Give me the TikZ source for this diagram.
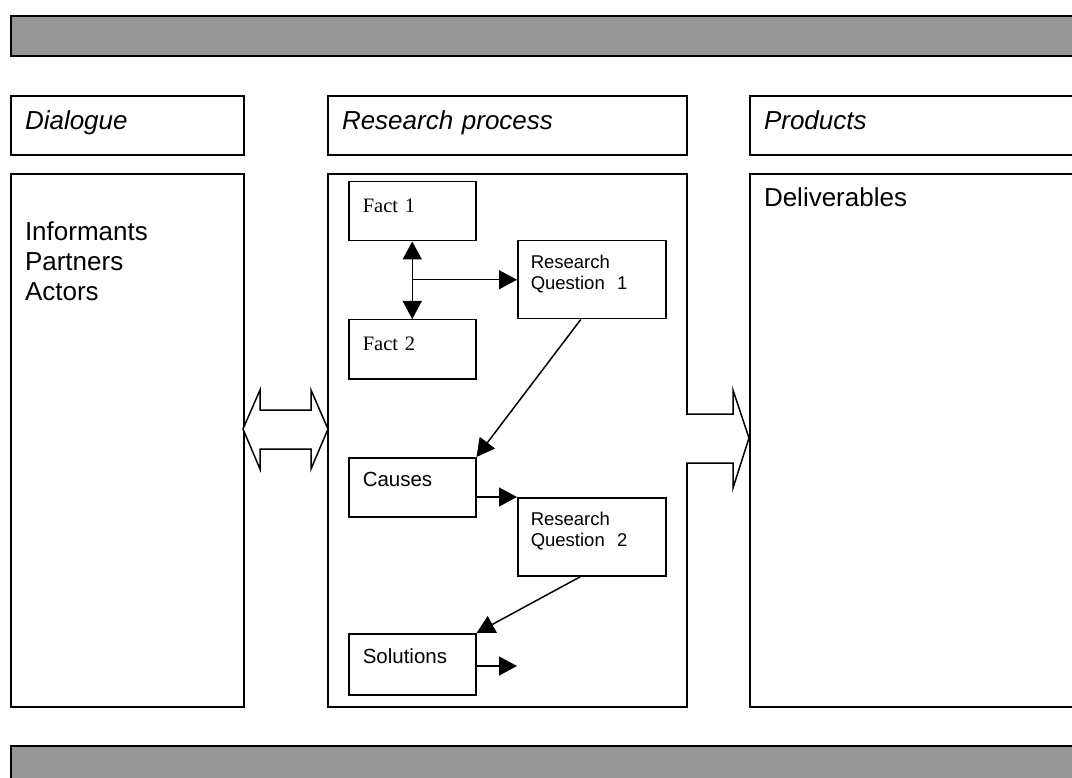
\documentclass[tikz,border=0pt]{standalone}
\usepackage{fontspec}
\setmainfont{Liberation Serif}
\setsansfont{Liberation Sans}
\usetikzlibrary{arrows.meta}
\definecolor{bargray}{RGB}{150,150,150}
\tikzstyle{bar} = [rectangle, draw=black, line width=2pt, fill=bargray, anchor=north west, inner sep=0pt]
\tikzstyle{panel} = [rectangle, draw=black, line width=2pt, anchor=north west, align=left, inner xsep=14pt, inner ysep=0pt, font=\sffamily\fontsize{26}{30}\selectfont]
\tikzstyle{heading} = [panel, font=\sffamily\itshape\fontsize{26}{30}\selectfont]
\tikzstyle{item} = [rectangle, draw=black, line width=1.5pt, anchor=north west, align=left, inner xsep=14pt, inner ysep=0pt, text width=99pt, font=\sffamily\fontsize{20.5}{24}\selectfont]
\tikzstyle{fact} = [item, font=\rmfamily\fontsize{20.5}{24}\selectfont]
\tikzstyle{question} = [item, inner xsep=13pt, text width=122pt, font=\sffamily\fontsize{18.5}{21}\selectfont]
\tikzstyle{arrow} = [line width=1.5pt, -{Triangle[length=18pt,width=19pt]}]
\tikzstyle{dblarrow} = [line width=1.5pt, {Triangle[length=18pt,width=19pt]}-{Triangle[length=18pt,width=19pt]}]
\tikzstyle{bigarrow} = [draw=black, line width=1.5pt, fill=white, line join=miter]

\begin{document}
\begin{tikzpicture}[x=1pt, y=-1pt]
\useasboundingbox (0,0) rectangle (1072,778);

% Bars
\node (topbar) [bar, minimum width=1080pt, minimum height=40pt] at (10,15) {};
\node (bottombar) [bar, minimum width=1080pt, minimum height=60pt] at (10,745) {};

% Headings
\node (dialogue) [heading, text width=205pt, text height=34pt, text depth=25pt] at (10,95) {Dialogue};
\node (process) [heading, text width=331pt, text height=34pt, text depth=25pt] at (327,95) {Research process};
\node (products) [heading, text width=313pt, text height=34pt, text depth=25pt] at (749,95) {Products};

% Panels
\node (people) [panel, text width=205pt, text height=67pt, text depth=466pt] at (10,173) {Informants\\Partners\\Actors};
\node (research) [panel, text width=331pt, text height=34pt, text depth=499pt] at (327,173) {};
\node (deliverables) [panel, text width=313pt, text height=33pt, text depth=500pt] at (749,173) {Deliverables};

% Research steps
\node (fact1) [fact, text height=31pt, text depth=28pt] at (348,181) {Fact 1};
\node (fact2) [fact, text height=31pt, text depth=28pt] at (348,319) {Fact 2};
\node (rq1) [question, text height=28pt, text depth=50pt] at (517,240) {Research\\Question\ \ 1};
\node (causes) [item, text height=29pt, text depth=30pt] at (348,457) {Causes};
\node (rq2) [question, text height=28pt, text depth=50pt] at (517,497) {Research\\Question\ \ 2};
\node (solutions) [item, text height=30pt, text depth=31pt] at (348,633) {Solutions};
\coordinate (solout) at (517,666);

% Arrows
\draw [dblarrow] (fact1) -- (fact2);
\draw [arrow] (fact1.south |- rq1.west) -- (rq1.west);
\draw [arrow] ([xshift=-11pt]rq1.south) -- (causes.north east);
\draw [arrow] (causes.east |- rq2.north west) -- (rq2.north west);
\draw [arrow] ([xshift=-11pt]rq2.south) -- (solutions.north east);
\draw [arrow] (solutions.east |- solout) -- (solout);

% Block arrows
\draw [bigarrow] (243,429) -- (260,390) -- (260,410) -- (311,410) -- (311,390) -- (328,429)
  -- (311,469) -- (311,449) -- (260,449) -- (260,469) -- cycle;
\draw [bigarrow] (686,414) -- (733,414) -- (733,390) -- (749,438) -- (733,488) -- (733,463) -- (686,463);

\end{tikzpicture}
\end{document}
